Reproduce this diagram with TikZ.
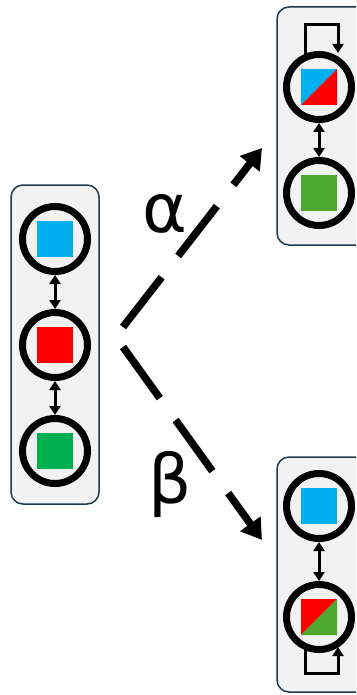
\documentclass[tikz,border=0pt]{standalone}
\usepackage{fontspec}
\setmainfont{DejaVu Sans}
\usetikzlibrary{arrows.meta,calc}
\definecolor{panelfill}{HTML}{F2F2F2}
\definecolor{paneledge}{HTML}{1E3A4C}
\definecolor{cblue}{HTML}{00B0F0}
\definecolor{cred}{HTML}{FF0000}
\definecolor{cgreen}{HTML}{00B050}
\definecolor{cgreenb}{HTML}{4EA72E}
\tikzset{
  panel/.style={fill=panelfill, draw=paneledge, line width=1.5pt, rounded corners=12pt},
  ring/.style={circle, draw=black, line width=7pt, minimum size=65pt, inner sep=0pt},
  link/.style={line width=3pt, {Triangle[length=9pt,width=11pt]}-{Triangle[length=9pt,width=11pt]}},
  loop/.style={line width=3pt, -{Triangle[length=9pt,width=11pt]}},
  branch/.style={line width=7.5pt, dash pattern=on 63pt off 27pt, -{Triangle[length=20pt,width=24pt]}},
  greek/.style={font=\fontsize{68}{72}\selectfont, inner sep=0pt}
}
\newcommand{\sq}[2]{\fill[#2] ($(#1)+(-18,-18)$) rectangle ($(#1)+(18,18)$);}
\begin{document}
\begin{tikzpicture}[x=1pt, y=-1pt]
  \useasboundingbox (0,0) rectangle (356,695);
  \clip (0,0) rectangle (356,695);

  % panels
  \draw[panel] (11,185) rectangle (99,504);
  \draw[panel] (277,7) rectangle (380,245);
  \draw[panel] (277,457) rectangle (380,692);

  % left chain
  \node[ring] (l1) at (55,239) {};
  \node[ring] (l2) at (55,345) {};
  \node[ring] (l3) at (55,451) {};
  \sq{l1}{cblue}
  \sq{l2}{cred}
  \sq{l3}{cgreen}
  \draw[link] (l1.south) -- (l2.north);
  \draw[link] (l2.south) -- (l3.north);

  % upper result
  \node[ring] (a1) at (319,87) {};
  \node[ring] (a2) at (319,193) {};
  \fill[cblue] (301,69) -- (337,69) -- (301,105) -- cycle;
  \fill[cred] (337,69) -- (337,105) -- (301,105) -- cycle;
  \sq{a2}{cgreenb}
  \draw[link] (a1.south) -- (a2.north);
  \coordinate (a1l) at (305,56);
  \draw[loop] (a1l) |- (338,25) -- (338,53);

  % lower result
  \node[ring] (b1) at (319,506) {};
  \node[ring] (b2) at (319,617) {};
  \sq{b1}{cblue}
  \fill[cred] (301,599) -- (337,599) -- (301,635) -- cycle;
  \fill[cgreenb] (337,599) -- (337,635) -- (301,635) -- cycle;
  \draw[link] (b1.south) -- (b2.north);
  \coordinate (b2l) at (305,648);
  \draw[loop] (b2l) |- (338,673) -- (338,647);

  % branching arrows
  \coordinate (sa) at (123,327);
  \coordinate (ea) at (262,148);
  \coordinate (sb) at (123,347);
  \coordinate (eb) at (262,540);
  \draw[branch] (sa) -- (ea);
  \draw[branch] (sb) -- (eb);
  \node[greek] (alpha) at (165,214) {α};
  \node[greek] (beta) at (170,485) {β};
\end{tikzpicture}
\end{document}
